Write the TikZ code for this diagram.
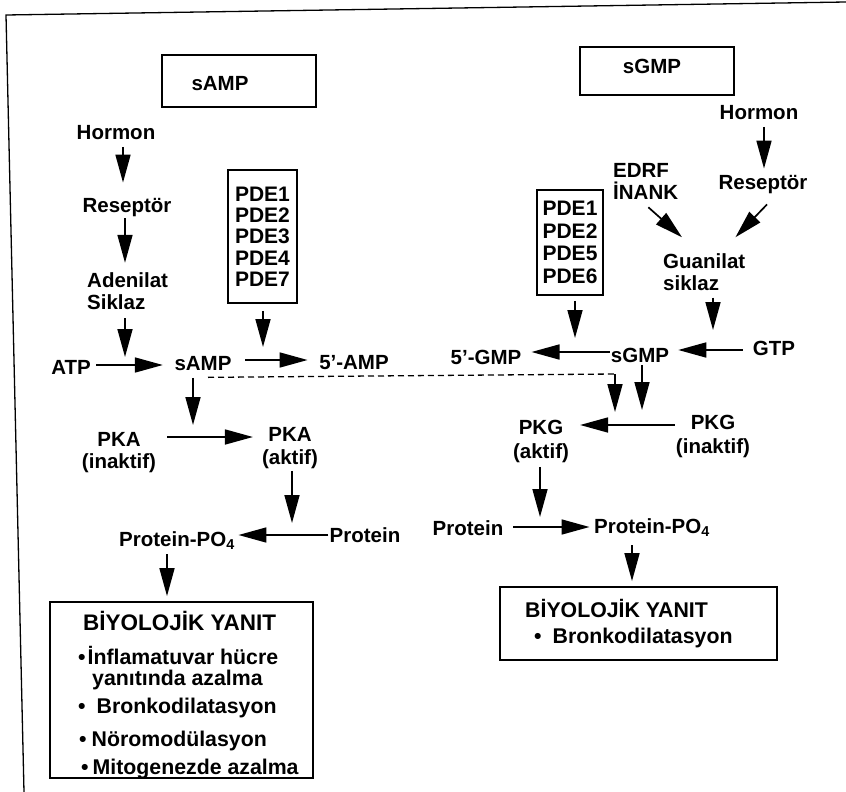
\documentclass[tikz,border=0pt]{standalone}
\usepackage{fontspec}
\setmainfont{Liberation Sans}
\usetikzlibrary{arrows.meta}
\begin{document}
\begin{tikzpicture}[x=1pt,y=-1pt,
  lbl/.style={font=\fontsize{20.5}{22}\selectfont\bfseries, inner sep=1pt, align=center},
  lbll/.style={lbl, align=left},
  boxtxt/.style={font=\fontsize{21.3}{23}\selectfont\bfseries, inner sep=0pt, anchor=base west},
  pdebox/.style={draw, line width=1.8pt, inner sep=0pt, align=center},
  titlebox/.style={draw, line width=1.8pt, inner sep=0pt},
  resbox/.style={draw, line width=1.8pt, inner sep=0pt},
  arr/.style={line width=1.7pt, -{Triangle[length=28pt,width=15pt]}},
  dashline/.style={line width=1.3pt, dash pattern=on 6pt off 4pt},
  framelin/.style={line width=1.3pt}
]
\useasboundingbox (0,0) rectangle (846,792);
% frame of the scanned page
\coordinate (fa) at (6,15);
\coordinate (fb) at (846,2);
\coordinate (fc) at (24,792);
\draw[framelin] (fb) -- (fa) -- (fc);

% title boxes
\node[titlebox, minimum width=154pt, minimum height=52pt] (tA) at (239,81) {};
\node[lbl] (tAt) at (220,84) {sAMP};
\node[titlebox, minimum width=154pt, minimum height=48pt] (tG) at (657,71) {};
\node[lbl] (tGt) at (652,66) {sGMP};

% left (cAMP) pathway
\node[lbl] (hormL) at (116,133) {Hormon};
\node[lbl] (resL) at (127,208) {Reseptör};
\node[lbll, anchor=west] (aden) at (86,291) {Adenilat\\Siklaz};
\node[pdebox, minimum width=69pt, minimum height=133pt,
      font=\fontsize{21}{21.3}\selectfont\bfseries] (pdeL) at (262.5,236.5) {PDE1\\PDE2\\PDE3\\PDE4\\PDE7};
\node[lbl] (atp) at (71,367) {ATP};
\node[lbl] (sA) at (203,364) {sAMP};
\node[lbl] (amp) at (354,363) {5'-AMP};
\node[lbl] (pkaI) at (119,453) {PKA\\(inaktif)};
\node[lbl, font=\fontsize{20.5}{23}\selectfont\bfseries] (pkaA) at (290,448) {PKA\\(aktif)};
\node[lbl] (protL) at (365,535) {Protein};
\node[lbl] (ppoL) at (177,541) {Protein-PO\textsubscript{4}};

% right (cGMP) pathway
\node[lbl] (hormR) at (759,113) {Hormon};
\node[lbl] (resR) at (763,185) {Reseptör};
\node[lbll, anchor=west] (edrf) at (612,181) {EDRF\\İNANK};
\node[lbll, anchor=west] (guan) at (662,272) {Guanilat\\siklaz};
\node[pdebox, minimum width=66pt, minimum height=105pt,
      font=\fontsize{21}{22.5}\selectfont\bfseries] (pdeR) at (570,242.5) {PDE1\\PDE2\\PDE5\\PDE6};
\node[lbl] (gmp) at (486,357) {5'-GMP};
\node[lbl] (sG) at (640,355) {sGMP};
\node[lbl] (gtp) at (774,348) {GTP};
\node[lbl, font=\fontsize{20.5}{24}\selectfont\bfseries] (pkgA) at (541,441) {PKG\\(aktif)};
\node[lbl, font=\fontsize{20.5}{24}\selectfont\bfseries] (pkgI) at (713,436) {PKG\\(inaktif)};
\node[lbl] (protR) at (468,528) {Protein};
\node[lbl] (ppoR) at (652,528) {Protein-PO\textsubscript{4}};

% result boxes
\node[resbox, minimum width=263pt, minimum height=176pt] (boxL) at (181.5,690) {};
\node[boxtxt, font=\fontsize{22.5}{23}\selectfont\bfseries] (bl0) at (83,630) {BİYOLOJİK YANIT};
\node[boxtxt] (bl1) at (78,664) {•\hspace{2pt}İnflamatuvar hücre};
\node[boxtxt] (bl2) at (92,685) {yanıtında azalma};
\node[boxtxt] (bl3) at (78,713) {•\hspace{11pt}Bronkodilatasyon};
\node[boxtxt] (bl4) at (79,746) {•\hspace{5pt}Nöromodülasyon};
\node[boxtxt] (bl5) at (81,774) {•\hspace{4pt}Mitogenezde azalma};

\node[resbox, minimum width=277pt, minimum height=73pt] (boxR) at (638.5,623.5) {};
\node[boxtxt] (br0) at (525,617) {BİYOLOJİK YANIT};
\node[boxtxt] (br1) at (534,643) {•\hspace{11pt}Bronkodilatasyon};

% helper coordinates (points on arrows and arrow columns)
\coordinate (m1) at (125,365);
\coordinate (m2) at (263,360);
\coordinate (m3) at (193,437);
\coordinate (m4) at (615,425);
\coordinate (m5) at (642,425);
\coordinate (m6) at (292,535);
\coordinate (m7) at (575,352);
\coordinate (m8) at (713,350);
\coordinate (m9) at (540,527);
\coordinate (d1) at (615,374);
\coordinate (cA) at (123,0);
\coordinate (cB) at (125,0);
\coordinate (cP) at (167,0);
\coordinate (cH) at (764,0);
\coordinate (cR) at (632,0);

% left arrows
\draw[arr, shorten <=5.5pt, shorten >=15pt] (hormL.south -| cA) -- (resL.north -| cA);
\draw[arr, shorten >=8.5pt] (resL.south -| cB) -- (aden.north -| cB);
\draw[arr, shorten <=7.5pt, shorten >=8pt] (aden.south -| m1) -- (m1);
\draw[arr, shorten <=7pt, shorten >=13pt] (pdeL.south -| m2) -- (m2);
\draw[arr, shorten <=4.5pt, shorten >=10.5pt] (atp.east |- m1) -- (sA.west |- m1);
\draw[arr, shorten <=12.5pt, shorten >=10.5pt] (sA.east |- m2) -- (amp.west |- m2);
\draw[arr, shorten <=5.5pt, shorten >=12pt] (sA.south -| m3) -- (m3);
\draw[arr, shorten <=10pt, shorten >=8pt] (pkaI.east |- m3) -- (pkaA.west |- m3);
\draw[arr, shorten <=1pt, shorten >=12pt] (pkaA.south -| m6) -- (m6);
\draw[arr, shorten >=2.5pt] (protL.west) -- (ppoL.east |- protL.west);
\draw[arr, shorten <=3pt, shorten >=5pt] (ppoL.south -| cP) -- (boxL.north -| cP);

% dashed link from sAMP to PKG activation
\draw[dashline] ([shift={(5,5)}]sA.south) -- (d1);
\draw[arr, shorten >=13pt] (d1) -- (m4);

% right arrows
\draw[arr, shorten <=5.5pt, shorten >=6pt] (hormR.south -| cH) -- (resR.north -| cH);
\draw[arr] ([shift={(-31,7)}]edrf.south east) -- ([shift={(20,-15)}]guan.north west);
\draw[arr] ([shift={(4,9)}]resR.south) -- ([shift={(-11,-15)}]guan.north east);
\draw[arr, shorten <=5pt, shorten >=14pt] (pdeR.south -| m7) -- (m7);
\draw[arr, shorten <=6pt, shorten >=20pt] (guan.south -| m8) -- (m8);
\draw[arr, shorten >=9pt] (sG.west |- m7) -- (gmp.east |- m7);
\draw[arr, shorten <=9pt, shorten >=8pt] (gtp.west |- m8) -- (sG.east |- m8);
\draw[arr, shorten <=1.5pt, shorten >=15pt] (sG.south -| m5) -- (m5);
\draw[arr, shorten >=10pt] (pkgI.west |- m4) -- (pkgA.east |- m4);
\draw[arr, shorten <=3.5pt, shorten >=10pt] (pkgA.south -| m9) -- (m9);
\draw[arr, shorten <=8.5pt, shorten >=3.5pt] (protR.east |- m9) -- (ppoR.west |- m9);
\draw[arr, shorten <=7pt, shorten >=5pt] (ppoR.south -| cR) -- (boxR.north -| cR);
\end{tikzpicture}
\end{document}
